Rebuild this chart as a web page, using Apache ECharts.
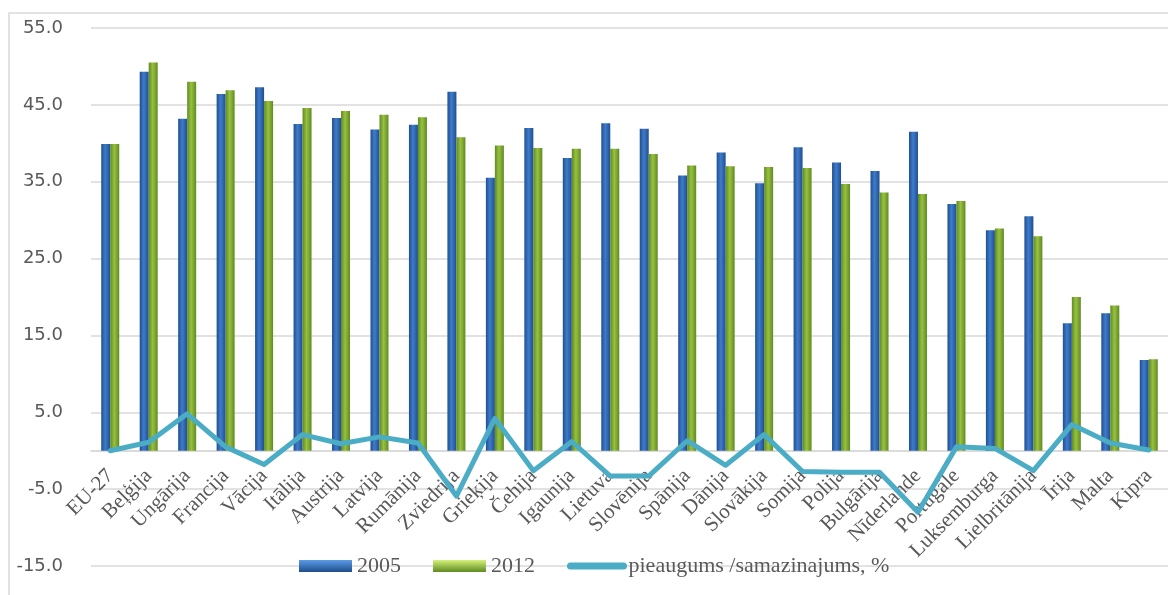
<!DOCTYPE html>
<html>
<head>
<meta charset="utf-8">
<script src="https://cdn.jsdelivr.net/npm/echarts@6/dist/echarts.min.js"></script>
<style>
    html, body { margin: 0; padding: 0; background: #fff; }
    #chart { width: 1168px; height: 595px; }
</style>
</head>
<body>
<div id="chart"></div>
<script>
    // valstis (x ass)
    const categories = ["EU-27", "Beļģija", "Ungārija", "Francija", "Vācija", "Itālija", "Austrija", "Latvija",
        "Rumānija", "Zviedrija", "Grieķija", "Čehija", "Igaunija", "Lietuva", "Slovēnija", "Spānija", "Dānija",
        "Slovākija", "Somija", "Polija", "Bulgārija", "Nīderlande", "Portugāle", "Luksemburga", "Lielbritānija",
        "Īrija", "Malta", "Kipra"];

    const values2005 = [39.9, 49.3, 43.2, 46.4, 47.3, 42.5, 43.3, 41.8, 42.4, 46.7, 35.5, 42.0, 38.1, 42.6,
        41.9, 35.8, 38.8, 34.8, 39.5, 37.5, 36.4, 41.5, 32.1, 28.7, 30.5, 16.6, 17.9, 11.8];
    const values2012 = [39.9, 50.5, 48.0, 46.9, 45.5, 44.6, 44.2, 43.7, 43.4, 40.8, 39.7, 39.4, 39.3, 39.3,
        38.6, 37.1, 37.0, 36.9, 36.8, 34.7, 33.6, 33.4, 32.5, 28.9, 27.9, 20.0, 18.9, 11.9];
    const changeValues = [0.0, 1.1, 4.8, 0.5, -1.8, 2.1, 0.9, 1.8, 1.0, -5.9, 4.2, -2.6, 1.2, -3.3,
        -3.3, 1.3, -1.9, 2.1, -2.7, -2.8, -2.8, -8.0, 0.5, 0.3, -2.6, 3.4, 1.0, 0.1];

    const seriesNames = ["2005", "2012", "pieaugums /samazinajums, %"];
    const yTicks = [-15, -5, 5, 15, 25, 35, 45, 55];

    const gridTop = 28;
    const gridBottom = 29;
    const chartHeight = 595;

    const chart = echarts.init(document.getElementById("chart"));

    // cilindra efekts stabiņiem
    function barGradient(edge, mid) {
        return new echarts.graphic.LinearGradient(0, 0, 1, 0, [
            { offset: 0, color: edge },
            { offset: 0.45, color: mid },
            { offset: 1, color: edge }
        ]);
    }

    // leģendas ikonām gaišāka augšmala
    function legendGradient(top, bottom) {
        return new echarts.graphic.LinearGradient(0, 0, 0, 1, [
            { offset: 0, color: top },
            { offset: 1, color: bottom }
        ]);
    }

    // x ass ar nosaukumiem jāpaceļ līdz nulles līnijai
    const yMin = yTicks[0];
    const yMax = yTicks[yTicks.length - 1];
    const plotH = chartHeight - gridTop - gridBottom;
    const zeroOffset = -plotH * (0 - yMin) / (yMax - yMin);

    const option = {
        backgroundColor: "#fff",
        animation: false,
        graphic: [{
            type: "rect",
            shape: { x: 9, y: 13, width: 1200, height: 700 },
            style: { fill: "none", stroke: "#d9d9d9", lineWidth: 1.5 },
            silent: true
        }],
        legend: {
            left: 294,
            top: 550,
            itemWidth: 53,
            itemHeight: 12,
            itemGap: 32,
            textStyle: { fontFamily: "Liberation Serif", fontSize: 22, color: "#595959" },
            data: [
                { name: seriesNames[0], icon: "rect", itemStyle: { color: legendGradient("#5b9be6", "#1f4e8c") } },
                { name: seriesNames[1], icon: "rect", itemStyle: { color: legendGradient("#d4f27a", "#5f8a22") } },
                { name: seriesNames[2], itemStyle: { opacity: 0 }, lineStyle: { width: 7, cap: "round" } }
            ]
        },
        grid: {
            left: 91,
            right: 0,
            top: gridTop,
            bottom: gridBottom,
            outerBoundsMode: "none",
            containLabel: false
        },
        xAxis: {
            type: "category",
            data: categories,
            offset: zeroOffset,
            axisLine: { onZero: false, lineStyle: { color: "#d0d0d0", width: 1.5 } },
            axisTick: { show: false },
            axisLabel: {
                rotate: 45,
                margin: 22,
                interval: 0,
                fontFamily: "Liberation Serif",
                fontSize: 21,
                color: "#595959"
            }
        },
        yAxis: {
            type: "value",
            min: yMin,
            max: yMax,
            interval: yTicks[1] - yTicks[0],
            axisLine: { show: false },
            axisTick: { show: false },
            splitLine: { lineStyle: { color: "#d9d9d9", width: 1.5 } },
            axisLabel: {
                margin: 28,
                fontFamily: "DejaVu Sans",
                fontSize: 18,
                color: "#595959",
                formatter: function (v) { return v.toFixed(1); }
            }
        },
        series: [
            {
                name: seriesNames[0],
                type: "bar",
                barWidth: 9,
                barGap: "0%",
                itemStyle: { color: barGradient("#1f4f8f", "#3f7bcb") },
                data: values2005
            },
            {
                name: seriesNames[1],
                type: "bar",
                barWidth: 9,
                barGap: "0%",
                itemStyle: { color: barGradient("#5f8a22", "#98c13f") },
                data: values2012
            },
            {
                name: seriesNames[2],
                type: "line",
                symbol: "none",
                z: 5,
                lineStyle: { color: "#4bacc6", width: 5, cap: "round", join: "round" },
                itemStyle: { color: "#4bacc6" },
                data: changeValues
            }
        ]
    };

    chart.setOption(option);
</script>
</body>
</html>
